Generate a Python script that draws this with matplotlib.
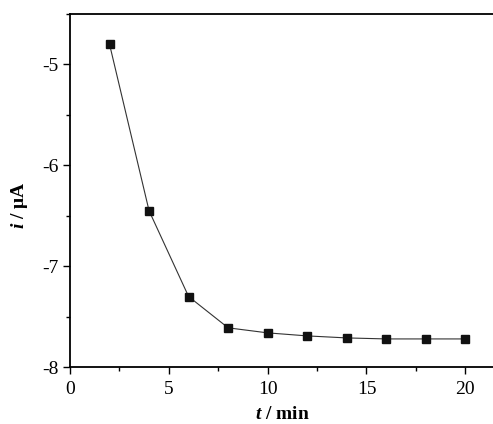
import matplotlib
matplotlib.use("Agg")
import matplotlib.pyplot as plt
from matplotlib.ticker import MultipleLocator

# time (min) and current (uA)
t = [2, 4, 6, 8, 10, 12, 14, 16, 18, 20]
i = [-4.80, -6.45, -7.30, -7.61, -7.66, -7.69, -7.71, -7.72, -7.72, -7.72]

plt.rcParams["font.family"] = ["Liberation Serif", "DejaVu Serif"]
plt.rcParams["axes.unicode_minus"] = False
plt.rcParams["mathtext.fontset"] = "custom"
plt.rcParams["mathtext.it"] = "Liberation Serif:italic:bold"
plt.rcParams["mathtext.rm"] = "Liberation Serif:bold"

fig = plt.figure(figsize=(4.93, 4.24), dpi=100)
ax = fig.add_axes([0.142, 0.134, 0.862, 0.833])

ax.plot(t, i, color="#333333", lw=0.8, marker="s", ms=5.5,
        mfc="#111111", mec="#111111")

ax.set_xlim(0, 21.5)
ax.set_ylim(-8, -4.5)
ax.xaxis.set_major_locator(MultipleLocator(5))
ax.xaxis.set_minor_locator(MultipleLocator(2.5))
ax.yaxis.set_major_locator(MultipleLocator(1))
ax.yaxis.set_minor_locator(MultipleLocator(0.5))
ax.tick_params(direction="out", labelsize=14, width=1.0, length=5)
ax.tick_params(axis="x", pad=5)
ax.tick_params(which="minor", direction="out", width=1.0, length=3)
ax.spines["right"].set_visible(False)
for s in ["left", "bottom", "top"]:
    ax.spines[s].set_linewidth(1.3)

ax.set_xlabel(r"$t$ / min", fontsize=14, fontweight="bold", labelpad=6)
ax.set_ylabel(r"$i$ / μA", fontsize=14, fontweight="bold")
ax.yaxis.set_label_coords(-0.095, 0.46)

fig.savefig("out.png", dpi=100)
